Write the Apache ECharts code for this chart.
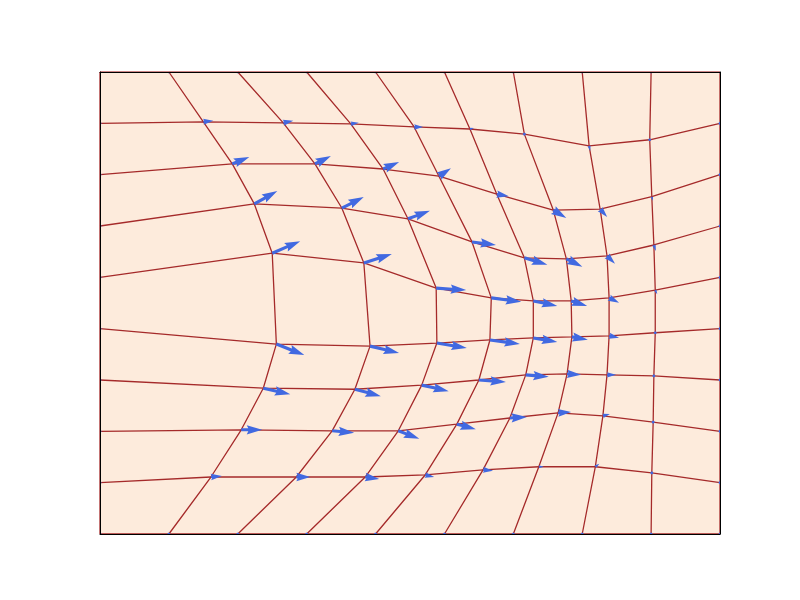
<!DOCTYPE html>
<html>
<head>
<meta charset="utf-8">
<script src="https://cdn.jsdelivr.net/npm/echarts@6/dist/echarts.min.js"></script>
<style>html,body{margin:0;padding:0;background:#fff}#c{width:800px;height:600px}</style>
</head>
<body>
<div id="c"></div>
<script>
// Node positions of the deformed grid (rows from bottom y=0 to top y=9, columns x=0..9), data units
const gridX = [
  [0, 1, 2, 3, 4, 5, 6, 7, 8, 9],
  [0, 1.61, 2.85, 3.85, 4.72, 5.56, 6.37, 7.19, 8.01, 9],
  [0, 2.05, 3.37, 4.33, 5.18, 5.95, 6.65, 7.30, 8.03, 9],
  [0, 2.37, 3.70, 4.67, 5.50, 6.18, 6.78, 7.36, 8.04, 9],
  [0, 2.56, 3.92, 4.89, 5.66, 6.29, 6.85, 7.39, 8.06, 9],
  [0, 2.50, 3.83, 4.88, 5.68, 6.29, 6.84, 7.39, 8.06, 9],
  [0, 2.24, 3.51, 4.47, 5.40, 6.16, 6.77, 7.36, 8.04, 9],
  [0, 1.92, 3.12, 4.11, 4.92, 5.76, 6.58, 7.26, 8.01, 9],
  [0, 1.50, 2.66, 3.64, 4.56, 5.37, 6.16, 7.10, 7.98, 9],
  [0, 1, 2, 3, 4, 5, 6, 7, 8, 9]
];
const gridY = [
  [0, 0, 0, 0, 0, 0, 0, 0, 0, 0],
  [1, 1.11, 1.11, 1.11, 1.15, 1.25, 1.31, 1.31, 1.19, 1],
  [2, 2.03, 2.01, 2.01, 2.14, 2.26, 2.36, 2.30, 2.18, 2],
  [3, 2.84, 2.82, 2.90, 3.00, 3.10, 3.12, 3.10, 3.08, 3],
  [4, 3.70, 3.66, 3.72, 3.78, 3.82, 3.84, 3.86, 3.92, 4],
  [5, 5.47, 5.28, 4.79, 4.60, 4.54, 4.54, 4.60, 4.75, 5],
  [6, 6.43, 6.35, 6.14, 5.69, 5.38, 5.36, 5.42, 5.63, 6],
  [7, 7.21, 7.21, 7.11, 6.97, 6.62, 6.31, 6.33, 6.57, 7],
  [8, 8.03, 8.01, 7.99, 7.93, 7.89, 7.79, 7.56, 7.68, 8],
  [9, 9, 9, 9, 9, 9, 9, 9, 9, 9]
];
// Arrow components at each node (data units)
const arrowU = [
  [0, 0, 0, 0, 0, 0, 0, 0, 0, 0],
  [0, 0.160, 0.203, 0.203, 0.131, 0.145, 0.073, 0.058, 0.015, 0],
  [0, 0.305, 0.319, 0.305, 0.276, 0.247, 0.189, 0.102, 0.015, 0],
  [0, 0.392, 0.377, 0.392, 0.392, 0.334, 0.203, 0.131, 0.015, 0],
  [0, 0.406, 0.421, 0.435, 0.435, 0.348, 0.232, 0.145, 0.029, 0],
  [0, 0.406, 0.406, 0.435, 0.435, 0.348, 0.232, 0.145, 0.029, 0],
  [0, 0.334, 0.319, 0.319, 0.348, 0.334, 0.232, 0.116, 0.029, 0],
  [0, 0.247, 0.232, 0.232, 0.174, 0.174, 0.189, 0.102, 0.015, 0],
  [0, 0.145, 0.145, 0.116, 0.131, 0.058, 0.015, 0.015, 0.000, 0],
  [0, 0, 0, 0, 0, 0, 0, 0, 0, 0]
];
const arrowV = [
  [0, 0, 0, 0, 0, 0, 0, 0, 0, 0],
  [0, 0.019, 0.000, -0.039, -0.039, -0.019, 0.000, 0.058, 0.000, 0],
  [0, 0.000, -0.039, -0.156, -0.097, 0.019, 0.019, 0.039, 0.000, 0],
  [0, -0.117, -0.136, -0.117, -0.039, -0.039, -0.019, 0.000, 0.000, 0],
  [0, -0.214, -0.136, -0.097, -0.078, -0.078, -0.058, -0.039, -0.019, 0],
  [0, 0.234, 0.175, -0.039, -0.078, -0.097, -0.097, -0.097, -0.078, 0],
  [0, 0.253, 0.214, 0.156, -0.058, -0.136, -0.156, -0.156, -0.117, 0],
  [0, 0.136, 0.156, 0.136, 0.156, -0.039, -0.156, -0.156, -0.078, 0],
  [0, 0.019, 0.039, 0.019, 0.000, 0.019, -0.039, -0.097, -0.058, 0],
  [0, 0, 0, 0, 0, 0, 0, 0, 0, 0]
];

const lineColor = '#a52a2a';
const arrowColor = '#4169e1';
const n = gridX.length;

const series = [];
// horizontal grid lines (rows)
for (let r = 0; r < n; r++) {
  const d = [];
  for (let c = 0; c < n; c++) d.push([gridX[r][c], gridY[r][c]]);
  series.push({type: 'line', data: d, symbol: 'none', silent: true, animation: false,
    lineStyle: {color: lineColor, width: 1.3}, z: 2});
}
// vertical grid lines (columns)
for (let c = 0; c < n; c++) {
  const d = [];
  for (let r = 0; r < n; r++) d.push([gridX[r][c], gridY[r][c]]);
  series.push({type: 'line', data: d, symbol: 'none', silent: true, animation: false,
    lineStyle: {color: lineColor, width: 1.3}, z: 2});
}
// arrows
const arrowData = [];
for (let r = 0; r < n; r++)
  for (let c = 0; c < n; c++)
    arrowData.push([gridX[r][c], gridY[r][c], arrowU[r][c], arrowV[r][c]]);

const W = 3.1; // shaft width in px
series.push({
  type: 'custom', data: arrowData, clip: true, silent: true, animation: false, z: 5,
  encode: {x: 0, y: 1},
  renderItem: function (params, api) {
    const x = api.value(0), y = api.value(1), u = api.value(2), v = api.value(3);
    const p0 = api.coord([x, y]);
    const p1 = api.coord([x + u, y + v]);
    const dx = p1[0] - p0[0], dy = p1[1] - p0[1];
    const L = Math.hypot(dx, dy);
    let pts = [];
    if (L < W) {
      for (let k = 0; k < 6; k++) {
        const th = k * Math.PI / 3;
        pts.push([p0[0] + Math.cos(th) * W * 0.5, p0[1] + Math.sin(th) * W * 0.5]);
      }
    } else {
      let local;
      if (L >= 5 * W) {
        const l = L / W;
        local = [[0, 0.5], [l - 4.5, 0.5], [l - 5, 1.5], [l, 0], [l - 5, -1.5], [l - 4.5, -0.5], [0, -0.5]]
          .map(p => [p[0] * W, p[1] * W]);
      } else {
        const s = L / (5 * W);
        local = [[0, 0.5], [0.5, 0.5], [0, 1.5], [5, 0], [0, -1.5], [0.5, -0.5], [0, -0.5]]
          .map(p => [p[0] * W * s, p[1] * W * s]);
      }
      const a = Math.atan2(dy, dx), ca = Math.cos(a), sa = Math.sin(a);
      pts = local.map(p => [p0[0] + p[0] * ca - p[1] * sa, p0[1] + p[0] * sa + p[1] * ca]);
    }
    return {type: 'polygon', shape: {points: pts}, style: {fill: arrowColor}};
  }
});

const frameAxis = {type: 'value', min: 0, max: 9, z: 10,
  axisLine: {show: true, onZero: false, lineStyle: {color: '#000000', width: 1}},
  axisTick: {show: false}, axisLabel: {show: false}, splitLine: {show: false}};

const chart = echarts.init(document.getElementById('c'), null, {renderer: 'canvas'});
chart.setOption({
  backgroundColor: '#ffffff',
  animation: false,
  grid: {left: 100, top: 72, width: 620, height: 462, show: true,
    backgroundColor: '#fdebdc', borderWidth: 0},
  xAxis: [Object.assign({position: 'bottom'}, frameAxis), Object.assign({position: 'top'}, frameAxis)],
  yAxis: [Object.assign({position: 'left'}, frameAxis), Object.assign({position: 'right'}, frameAxis)],
  series: series
});
</script>
</body>
</html>
